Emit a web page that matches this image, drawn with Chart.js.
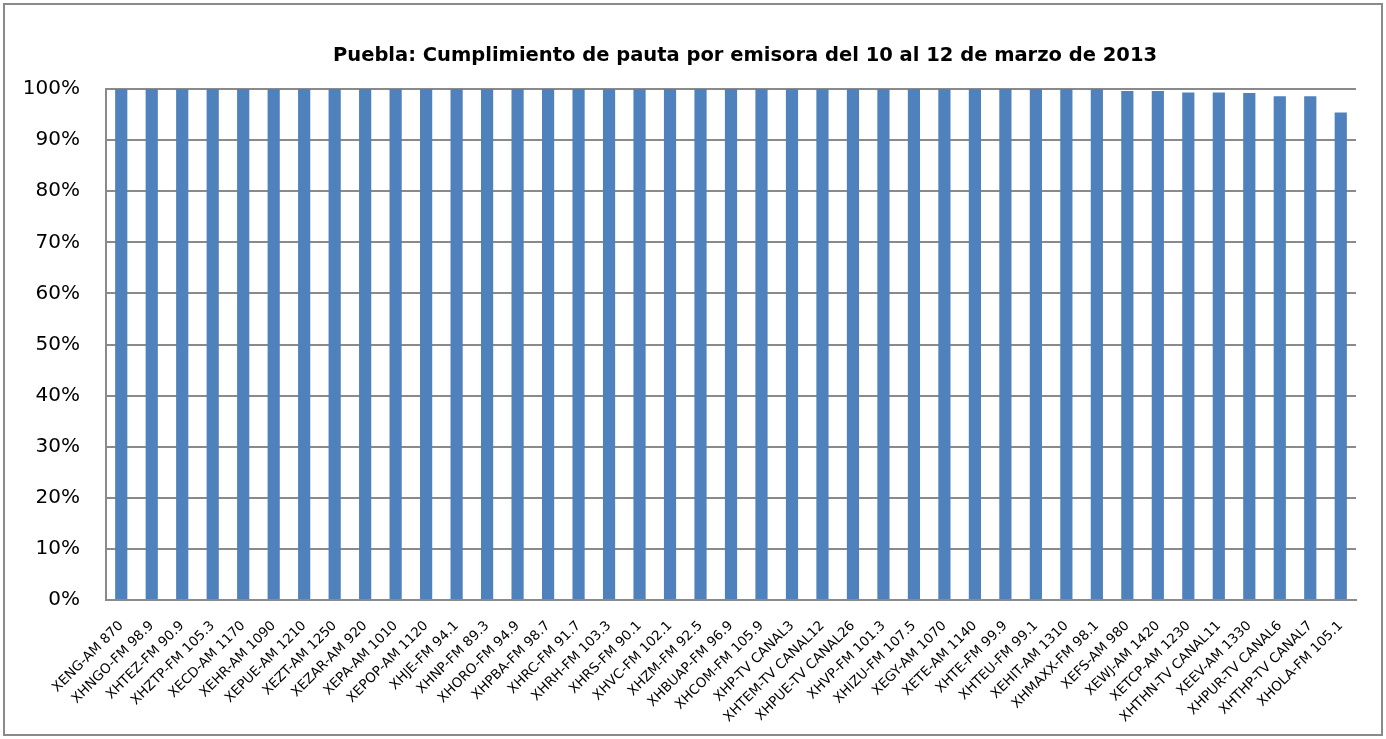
<!DOCTYPE html>
<html>
<head>
<meta charset="utf-8">
<script src="https://cdn.jsdelivr.net/npm/chart.js@4.4.4/dist/chart.umd.min.js"></script>
<style>
  html, body { margin: 0; padding: 0; background: #fff; }
  #wrap { position: relative; width: 1386px; height: 739px; }
  #frame {
    position: absolute; left: 3px; top: 3px; width: 1376px; height: 729px;
    border: 2px solid #8a8a8a; pointer-events: none;
  }
  canvas { position: absolute; left: 0; top: 0; }
</style>
</head>
<body>
<div id="wrap">
  <canvas id="chart" width="1386" height="739"></canvas>
  <div id="frame"></div>
</div>
<script>
// stations, in the order shown on the x axis
var stations = [
  'XENG-AM 870', 'XHNGO-FM 98.9', 'XHTEZ-FM 90.9', 'XHZTP-FM 105.3', 'XECD-AM 1170',
  'XEHR-AM 1090', 'XEPUE-AM 1210', 'XEZT-AM 1250', 'XEZAR-AM 920', 'XEPA-AM 1010',
  'XEPOP-AM 1120', 'XHJE-FM 94.1', 'XHNP-FM 89.3', 'XHORO-FM 94.9', 'XHPBA-FM 98.7',
  'XHRC-FM 91.7', 'XHRH-FM 103.3', 'XHRS-FM 90.1', 'XHVC-FM 102.1', 'XHZM-FM 92.5',
  'XHBUAP-FM 96.9', 'XHCOM-FM 105.9', 'XHP-TV CANAL3', 'XHTEM-TV CANAL12', 'XHPUE-TV CANAL26',
  'XHVP-FM 101.3', 'XHIZU-FM 107.5', 'XEGY-AM 1070', 'XETE-AM 1140', 'XHTE-FM 99.9',
  'XHTEU-FM 99.1', 'XEHIT-AM 1310', 'XHMAXX-FM 98.1', 'XEFS-AM 980', 'XEWJ-AM 1420',
  'XETCP-AM 1230', 'XHTHN-TV CANAL11', 'XEEV-AM 1330', 'XHPUR-TV CANAL6', 'XHTHP-TV CANAL7',
  'XHOLA-FM 105.1'
];

// % compliance per station
var cumplimiento = [
  100, 100, 100, 100, 100, 100, 100, 100, 100, 100,
  100, 100, 100, 100, 100, 100, 100, 100, 100, 100,
  100, 100, 100, 100, 100, 100, 100, 100, 100, 100,
  100, 100, 100, 99.6, 99.6, 99.3, 99.3, 99.2, 98.6, 98.6,
  95.4
];

var titleText = 'Puebla: Cumplimiento de pauta por emisora del 10 al 12 de marzo de 2013';

var font = '"DejaVu Sans", "Liberation Sans", sans-serif';
var gray = '#8a8a8a';

// Excel centres the title a bit right of the canvas centre, so draw it by hand
var titlePlugin = {
  id: 'excelTitle',
  afterDraw: function (chart) {
    var ctx = chart.ctx;
    ctx.save();
    ctx.font = 'bold 19.5px ' + font;
    ctx.fillStyle = '#000';
    ctx.textAlign = 'center';
    ctx.textBaseline = 'middle';
    ctx.fillText(titleText, 745, 56);
    ctx.restore();
  }
};

new Chart(document.getElementById('chart'), {
  type: 'bar',
  data: {
    labels: stations,
    datasets: [{
      data: cumplimiento,
      backgroundColor: '#4f81bd',
      borderWidth: 0,
      barPercentage: 0.4,
      categoryPercentage: 1
    }]
  },
  options: {
    responsive: false,
    animation: false,
    layout: { padding: { left: 0, right: 30, top: 89, bottom: 0 } },
    plugins: {
      legend: { display: false },
      tooltip: { enabled: false },
      title: { display: false }
    },
    scales: {
      x: {
        grid: { display: false, drawTicks: false },
        border: { color: gray, width: 2 },
        ticks: {
          autoSkip: false,
          maxRotation: 45,
          minRotation: 45,
          padding: 18,
          color: '#000',
          font: { family: font, size: 13.5 }
        },
        afterFit: function (s) { s.height = 139; }
      },
      y: {
        min: 0,
        max: 100,
        grid: { color: gray, lineWidth: 2, drawTicks: false },
        border: { color: gray, width: 2 },
        ticks: {
          stepSize: 10,
          padding: 26,
          color: '#000',
          font: { family: font, size: 20 },
          callback: function (v) { return v + '%'; }
        },
        afterFit: function (s) { s.width = 106; }
      }
    }
  },
  plugins: [titlePlugin]
});
</script>
</body>
</html>
